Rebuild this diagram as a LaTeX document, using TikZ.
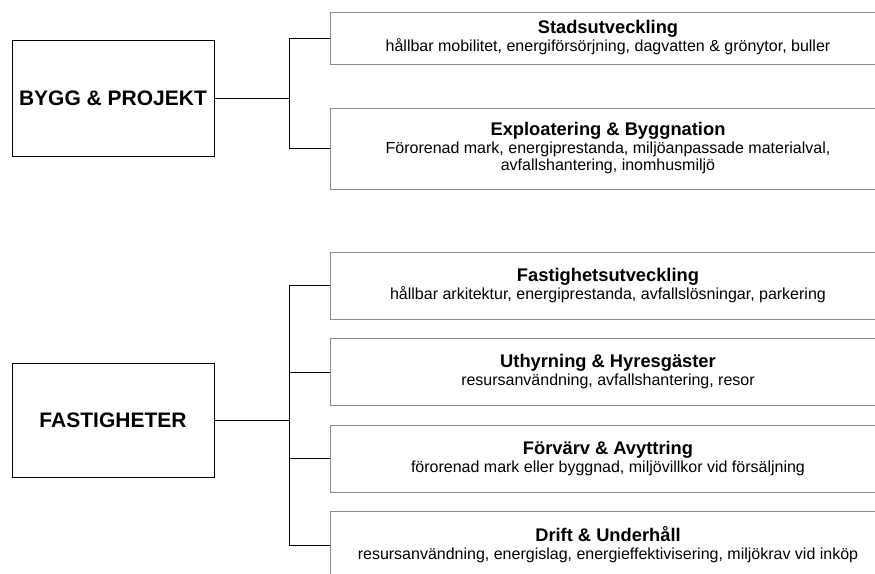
\documentclass[tikz,border=0pt]{standalone}
\usepackage{fontspec}
\setmainfont{Liberation Sans}
\tikzset{
  unit/.style={draw=black, line width=0.9pt, minimum width=202pt, inner sep=0pt, font=\fontsize{21}{24}\selectfont\bfseries},
  area/.style={draw=black!45, line width=0.9pt, minimum width=556pt, inner sep=0pt, align=center, font=\fontsize{16}{17}\selectfont},
  link/.style={line width=0.8pt}
}
\newcommand{\areatitle}[1]{{\fontsize{18.3}{20}\selectfont\bfseries #1}\\[1pt]}
\begin{document}
\begin{tikzpicture}[x=1pt, y=-1pt]
\useasboundingbox (0,0) rectangle (875,573);
\clip (0,0) rectangle (875,573);
\node [unit, minimum height=116pt] (bygg) at (113,98) {BYGG \& PROJEKT};
\node [unit, minimum height=114pt] (fast) at (113,420) {FASTIGHETER};
\node [area, minimum height=52pt] (stad) at (608,38) {\areatitle{Stadsutveckling}hållbar mobilitet, energiförsörjning, dagvatten \& grönytor, buller};
\node [area, minimum height=81pt] (expl) at (608,148.5) {\areatitle{Exploatering \& Byggnation}Förorenad mark, energiprestanda, miljöanpassade materialval,\\avfallshantering, inomhusmiljö};
\node [area, minimum height=67pt] (futv) at (608,285.5) {\areatitle{Fastighetsutveckling}hållbar arkitektur, energiprestanda, avfallslösningar, parkering};
\node [area, minimum height=67pt] (uthy) at (608,372) {\areatitle{Uthyrning \& Hyresgäster}resursanvändning, avfallshantering, resor};
\node [area, minimum height=67pt] (forv) at (608,458.5) {\areatitle{Förvärv \& Avyttring}förorenad mark eller byggnad, miljövillkor vid försäljning};
\node [area, minimum height=67pt] (drift) at (608,545) {\areatitle{Drift \& Underhåll}resursanvändning, energislag, energieffektivisering, miljökrav vid inköp};
\coordinate (bj) at (289,98);
\coordinate (fj) at (289,420);
\draw [link] (bygg) -- (bj);
\draw [link] (fast) -- (fj);
\foreach \n in {stad,expl} \draw [link] (bj) |- (\n);
\foreach \n in {futv,uthy,forv,drift} \draw [link] (fj) |- (\n);
\end{tikzpicture}
\end{document}
